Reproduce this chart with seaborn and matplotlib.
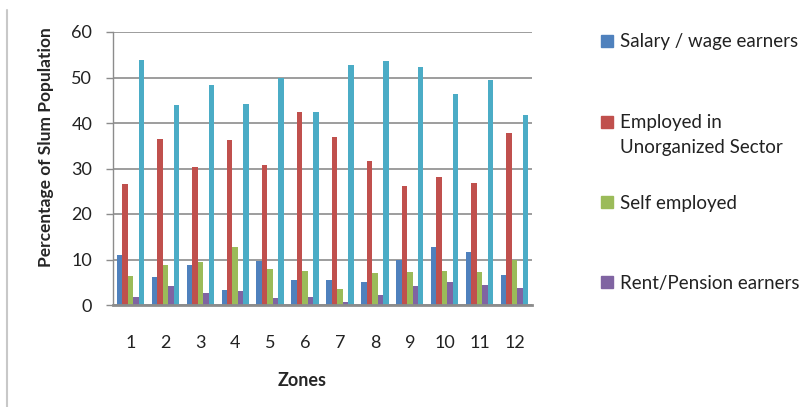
import matplotlib
matplotlib.use("Agg")
import matplotlib.pyplot as plt
import seaborn as sns
import pandas as pd
from matplotlib.lines import Line2D
from matplotlib.legend_handler import HandlerLine2D

zones = ["1", "2", "3", "4", "5", "6", "7", "8", "9", "10", "11", "12"]
salary = [11.0, 6.1, 8.9, 3.4, 9.7, 5.6, 5.6, 5.1, 10.0, 12.7, 11.7, 6.7]
unorganized = [26.6, 36.4, 30.3, 36.2, 30.7, 42.4, 36.9, 31.7, 26.2, 28.1, 26.8, 37.7]
self_emp = [6.4, 8.8, 9.4, 12.8, 8.0, 7.5, 3.5, 7.0, 7.2, 7.5, 7.2, 9.8]
rent = [1.8, 4.2, 2.6, 3.1, 1.5, 1.8, 0.6, 2.1, 4.1, 5.1, 4.5, 3.7]
other = [53.8, 44.0, 48.4, 44.2, 50.0, 42.5, 52.8, 53.6, 52.2, 46.3, 49.4, 41.8]

series_names = ["Salary / wage earners", "Employed in\nUnorganized Sector",
                "Self employed", "Rent/Pension earners", "Others"]
colors = ["#4F81BD", "#C0504D", "#9BBB59", "#8064A2", "#4BACC6"]

rows = []
for name, vals in zip(series_names, [salary, unorganized, self_emp, rent, other]):
    for z, v in zip(zones, vals):
        rows.append({"Zone": z, "Series": name, "Value": v})
df = pd.DataFrame(rows)

sns.set_style("white")
plt.rcParams["font.family"] = ["Lato", "DejaVu Sans"]

fig = plt.figure(figsize=(8.08, 4.07), dpi=100)
ax = fig.add_axes([113 / 808, 1 - 305 / 407, 419 / 808, 273 / 407])

sns.barplot(data=df, x="Zone", y="Value", hue="Series", order=zones,
            hue_order=series_names, palette=colors, width=0.785,
            saturation=1, ax=ax, legend=False, edgecolor="none")

ax.set_ylim(0, 60)
ax.set_xlim(-0.5, 11.5)
ax.set_yticks(range(0, 61, 10))
ax.yaxis.grid(True, color="#8c8c8c", linewidth=1.2)
ax.set_axisbelow(True)
for s in ["top", "right"]:
    ax.spines[s].set_visible(False)
ax.spines["left"].set_color("#8c8c8c")
ax.spines["left"].set_linewidth(1.0)
ax.spines["bottom"].set_color("#8c8c8c")
ax.spines["bottom"].set_linewidth(2.0)

ax.tick_params(axis="y", left=True, length=5, width=1, color="#8c8c8c",
               pad=10, labelsize=13, labelcolor="#222222")
ax.tick_params(axis="x", bottom=False, pad=18, labelsize=13,
               labelcolor="#222222")

ax.set_xlabel("Zones", fontsize=13, fontweight="bold")
ax.xaxis.set_label_coords((302 - 113) / 419, (305 - 372) / 273)
ax.set_ylabel("Percentage of Slum Population", fontsize=12.5, fontweight="bold")
ax.yaxis.set_label_coords((54 - 113) / 419, (305 - 147) / 273)


class TopAlignedHandler(HandlerLine2D):
    """Place the legend marker beside the first line of a two-line label."""
    def __init__(self, shift=0.0, **kw):
        super().__init__(**kw)
        self.shift = shift

    def create_artists(self, legend, orig_handle, xdescent, ydescent, width,
                       height, fontsize, trans):
        return super().create_artists(legend, orig_handle, xdescent,
                                      ydescent - 2 * self.shift, width, height,
                                      fontsize, trans)


# Legend (only first four series)
legend_y = [42, 135, 203, 283]
for name, col, yy in zip(series_names[:4], colors[:4], legend_y):
    h = Line2D([0], [0], marker="s", linestyle="none", markersize=9,
               markerfacecolor=col, markeredgecolor=col)
    shift = 9.5 if "\n" in name else 0.0
    leg = fig.legend([h], [name], loc="center left",
                     bbox_to_anchor=(600 / 808, 1 - yy / 407), frameon=False,
                     fontsize=13.5, handlelength=0.7, handletextpad=0.35,
                     borderaxespad=0, borderpad=0,
                     handler_map={h: TopAlignedHandler(shift=shift)})
    for t in leg.get_texts():
        t.set_color("#222222")
        t.set_linespacing(1.55)

# left border line of chart frame
fig.add_artist(Line2D([7 / 808, 7 / 808], [0, 1 - 10 / 407], color="#c8c8c8",
                      linewidth=1.5, transform=fig.transFigure))

fig.savefig("out.png", dpi=100)
